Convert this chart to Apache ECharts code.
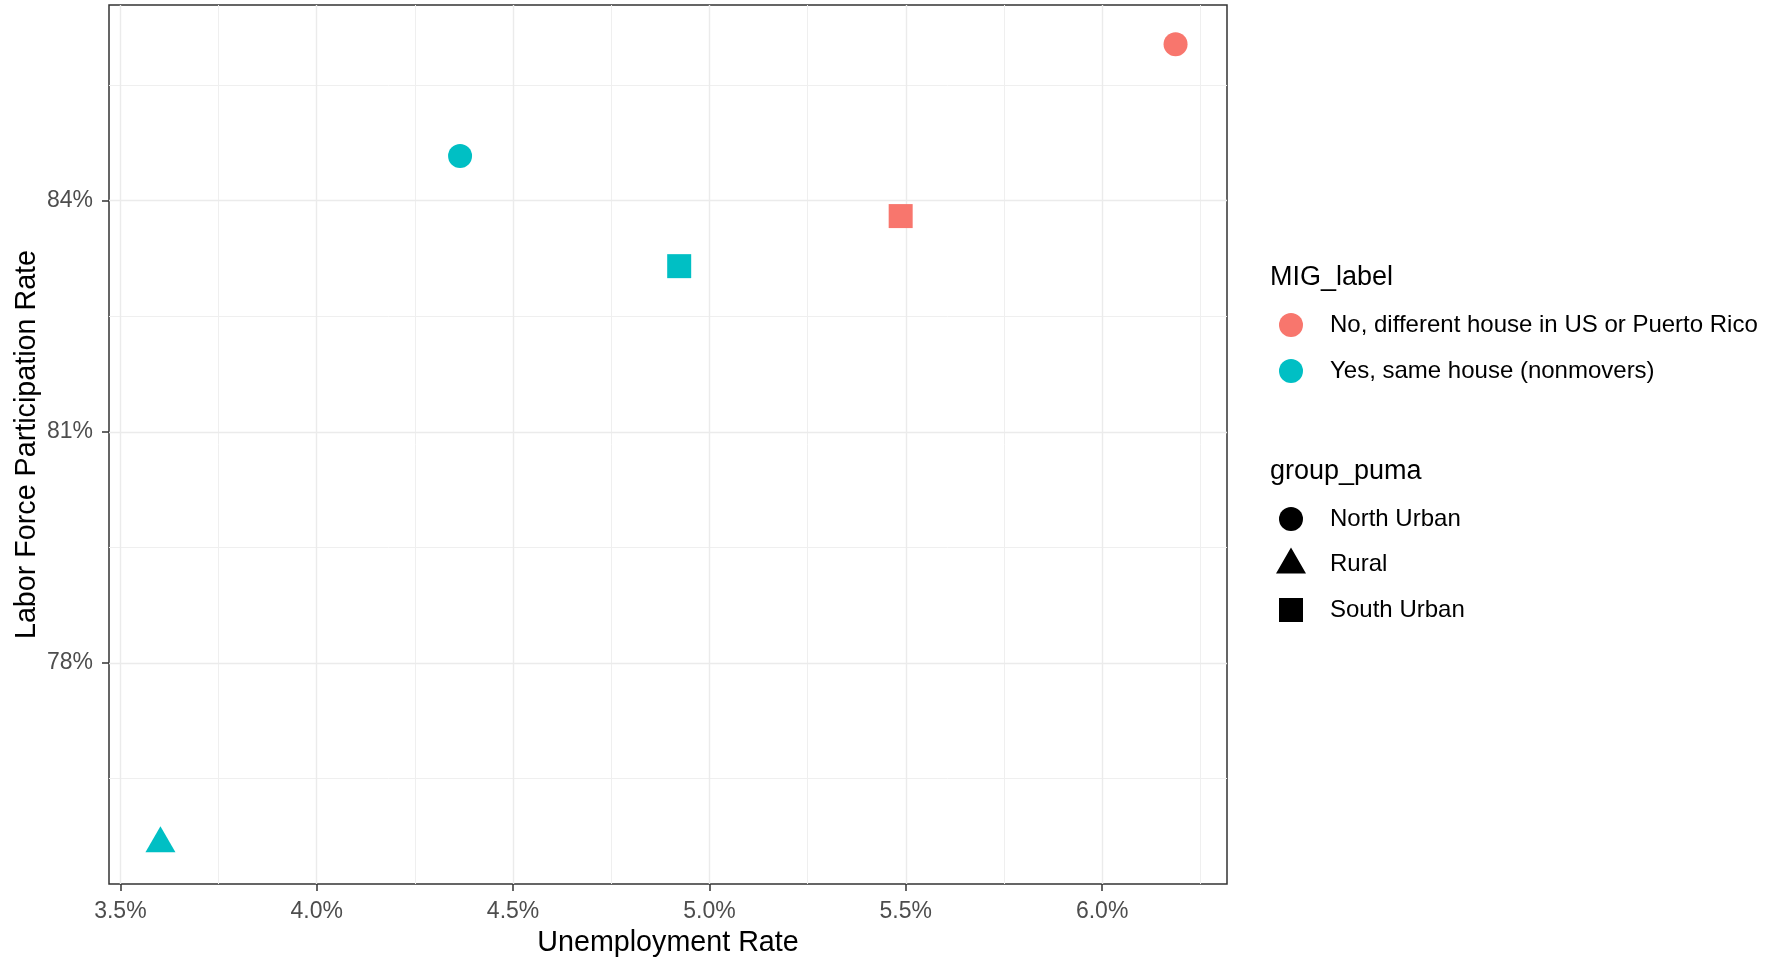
<!DOCTYPE html>
<html>
<head>
<meta charset="utf-8">
<script src="https://cdn.jsdelivr.net/npm/echarts@6/dist/echarts.min.js"></script>
<style>
  html, body { margin: 0; padding: 0; background: #ffffff; }
  #chart { width: 1777px; height: 960px; }
</style>
</head>
<body>
<div id="chart"></div>
<script>
// ---- data ----
const migLabels = ['No, different house in US or Puerto Rico', 'Yes, same house (nonmovers)'];
const pumaGroups = ['North Urban', 'Rural', 'South Urban'];
const pointMig = [
  'No, different house in US or Puerto Rico',
  'No, different house in US or Puerto Rico',
  'Yes, same house (nonmovers)',
  'Yes, same house (nonmovers)',
  'Yes, same house (nonmovers)'
];
const pointPuma = ['North Urban', 'South Urban', 'North Urban', 'South Urban', 'Rural'];
const unemploymentRate = [6.187, 5.487, 4.365, 4.923, 3.602];
const laborForceRate = [86.03, 83.80, 84.58, 83.15, 75.66];
const xTicks = [3.5, 4.0, 4.5, 5.0, 5.5, 6.0];
const xMinorTicks = [3.75, 4.25, 4.75, 5.25, 5.75, 6.25];
const yTicks = [78, 81, 84];
const yMinorTicks = [76.5, 79.5, 82.5, 85.5];

// ---- styles ----
const FONT = '"Liberation Sans", Arial, sans-serif';
const migColors = {
  'No, different house in US or Puerto Rico': '#F8766D',
  'Yes, same house (nonmovers)': '#00BFC4'
};
const shapeStyle = {
  'North Urban': { symbol: 'circle', symbolSize: 24, symbolOffset: [0, 0] },
  'Rural': { symbol: 'triangle', symbolSize: [30, 26], symbolOffset: [0, -4] },
  'South Urban': { symbol: 'rect', symbolSize: 24, symbolOffset: [0, 0] }
};
// legend icon per shape group: icon, box height, row top, left
const shapeLegendStyle = {
  'North Urban': { icon: 'circle', h: 24, top: 507, left: 1279 },
  'Rural': { icon: 'path://M15,0L30,26L0,26ZM14,34L16,34L15,34Z', h: 34, top: 547.5, left: 1276 },
  'South Urban': { icon: 'path://M0,0L24,0L24,24L0,24Z', h: 24, top: 598, left: 1279 }
};

const pointSeries = migLabels.map(function (mig) {
  const data = [];
  unemploymentRate.forEach(function (x, i) {
    if (pointMig[i] !== mig) return;
    const s = shapeStyle[pointPuma[i]];
    data.push({
      value: [x, laborForceRate[i]],
      symbol: s.symbol,
      symbolSize: s.symbolSize,
      symbolOffset: s.symbolOffset
    });
  });
  return {
    name: mig,
    type: 'scatter',
    z: 5,
    itemStyle: { color: migColors[mig], opacity: 1 },
    data: data
  };
});

const shapeSeries = pumaGroups.map(function (g) {
  return { name: g, type: 'scatter', data: [], itemStyle: { color: '#000000', opacity: 1 } };
});

const gridMajor = { color: '#EBEBEB', width: 1.4, type: 'solid' };
const gridMinor = { color: '#EFEFEF', width: 1, type: 'solid' };
function lines(key, vals, style) {
  return vals.map(function (v) {
    const o = { lineStyle: style };
    o[key] = v;
    return o;
  });
}
const gridSeries = {
  name: '__grid',
  type: 'scatter',
  data: [],
  z: 1,
  silent: true,
  markLine: {
    silent: true,
    symbol: ['none', 'none'],
    label: { show: false },
    emphasis: { disabled: true },
    animation: false,
    data: [].concat(
      lines('xAxis', xMinorTicks, gridMinor),
      lines('yAxis', yMinorTicks, gridMinor),
      lines('xAxis', xTicks, gridMajor),
      lines('yAxis', yTicks, gridMajor)
    )
  }
};

const legendText = { fontSize: 24, color: '#000000', fontFamily: FONT };
const legends = [{
  orient: 'vertical', left: 1279, top: 313, padding: 0,
  itemWidth: 68, itemHeight: 24, itemGap: 22,
  selectedMode: false,
  textStyle: legendText,
  data: migLabels.map(function (m) { return { name: m, icon: 'circle' }; })
}].concat(pumaGroups.map(function (g) {
  const s = shapeLegendStyle[g];
  return {
    orient: 'vertical', left: s.left, top: s.top, padding: 0,
    itemWidth: 68, itemHeight: s.h,
    selectedMode: false,
    textStyle: legendText,
    itemStyle: { color: '#000000', opacity: 1, borderWidth: 0 },
    data: [{ name: g, icon: s.icon, itemStyle: { color: '#000000', opacity: 1, borderWidth: 0 } }]
  };
}));

const chart = echarts.init(document.getElementById('chart'), null, { renderer: 'canvas' });
chart.setOption({
  animation: false,
  backgroundColor: '#ffffff',
  textStyle: { fontFamily: FONT },
  title: [
    { text: 'MIG_label', left: 1270, top: 264, padding: 0,
      textStyle: { fontSize: 27, fontWeight: 'normal', color: '#000000', fontFamily: FONT } },
    { text: 'group_puma', left: 1270, top: 458, padding: 0,
      textStyle: { fontSize: 27, fontWeight: 'normal', color: '#000000', fontFamily: FONT } }
  ],
  legend: legends,
  grid: {
    left: 109, top: 5, width: 1118, height: 879,
    outerBoundsMode: 'none',
    containLabel: false,
    show: true, borderColor: '#333333', borderWidth: 1.5, backgroundColor: '#ffffff'
  },
  xAxis: {
    type: 'value',
    min: 3.471, max: 6.318,
    name: 'Unemployment Rate',
    nameLocation: 'middle',
    nameGap: 45,
    nameMoveOverlap: false,
    nameTextStyle: { fontSize: 28.7, color: '#000000', fontFamily: FONT },
    axisLine: { show: false },
    axisTick: { show: true, length: 7, customValues: xTicks, lineStyle: { color: '#333333', width: 1.5 } },
    axisLabel: {
      customValues: xTicks, margin: 16, fontSize: 23, color: '#4D4D4D', fontFamily: FONT,
      formatter: function (v) { return v.toFixed(1) + '%'; }
    },
    splitLine: { show: false },
    minorSplitLine: { show: false }
  },
  yAxis: {
    type: 'value',
    min: 75.13, max: 86.54,
    name: 'Labor Force Participation Rate',
    nameLocation: 'middle',
    nameGap: 67,
    nameMoveOverlap: false,
    nameTextStyle: { fontSize: 28.7, color: '#000000', fontFamily: FONT },
    axisLine: { show: false },
    axisTick: { show: true, length: 7, customValues: yTicks, lineStyle: { color: '#333333', width: 1.5 } },
    axisLabel: {
      customValues: yTicks, margin: 16, fontSize: 23, color: '#4D4D4D', fontFamily: FONT,
      padding: [5, 0, 0, 0],
      formatter: function (v) { return v.toFixed(0) + '%'; }
    },
    splitLine: { show: false },
    minorSplitLine: { show: false }
  },
  series: [gridSeries].concat(pointSeries, shapeSeries)
});
</script>
</body>
</html>
